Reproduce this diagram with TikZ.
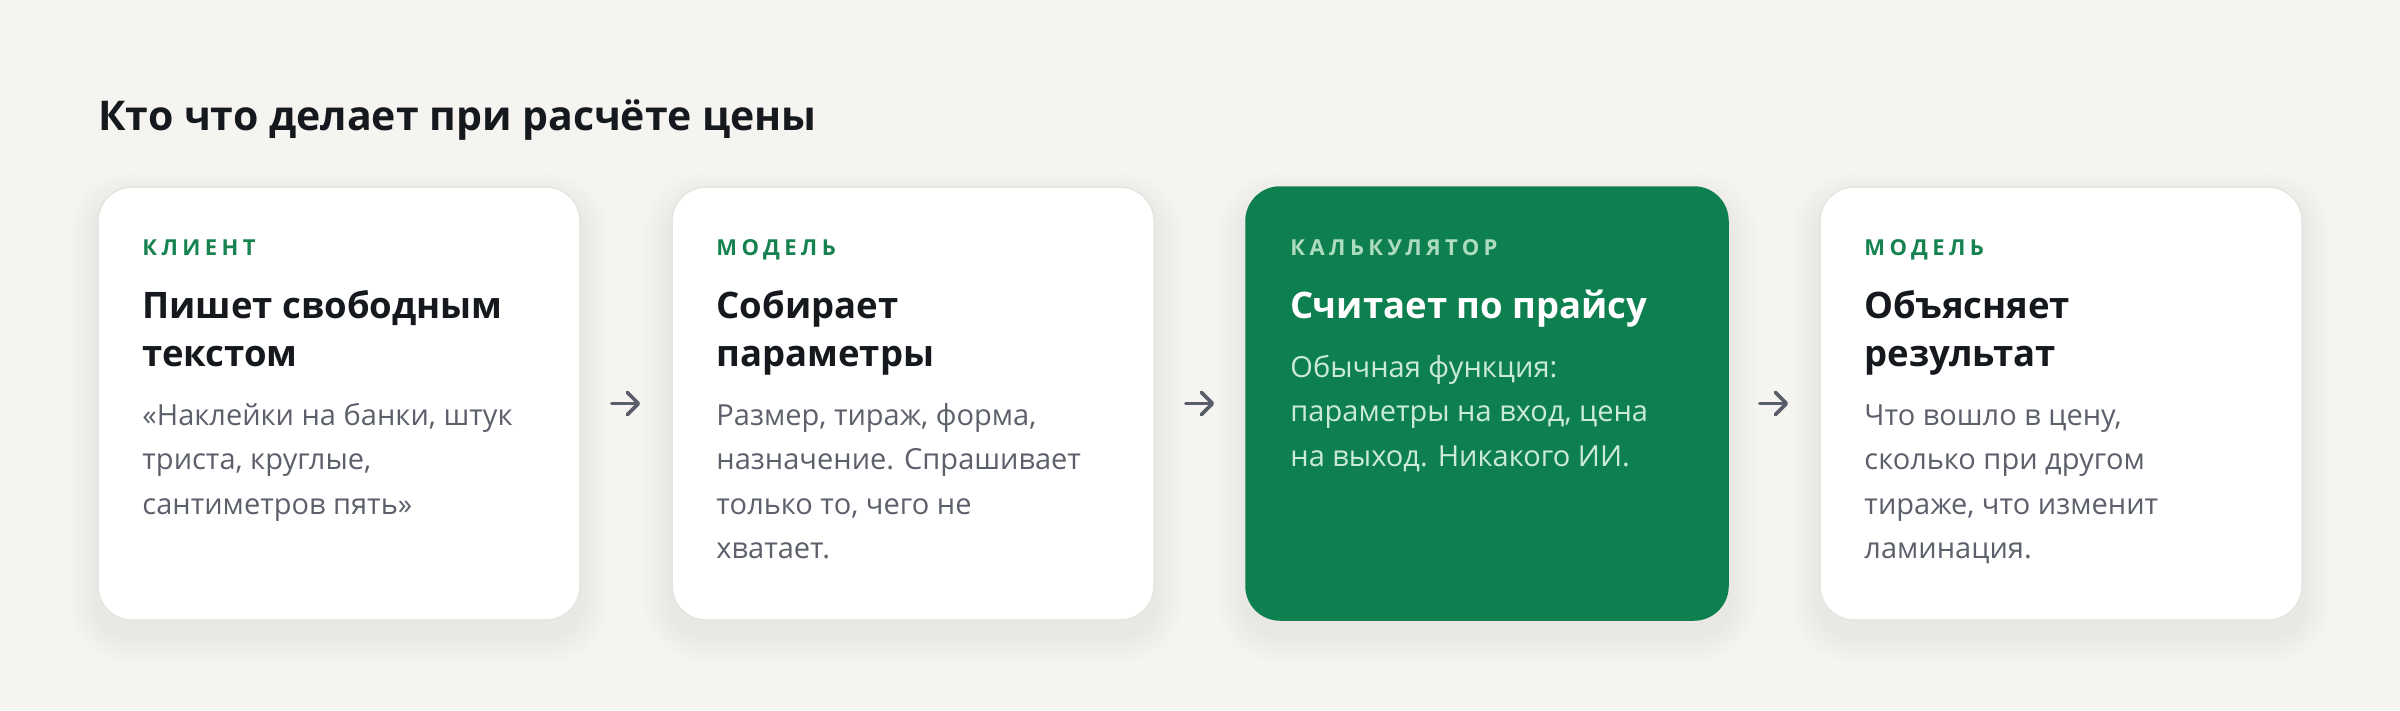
\documentclass[tikz,border=0pt]{standalone}
\usepackage{fontspec}
\setmainfont{Open Sans}
\newfontfamily\tagfont{Open Sans}[LetterSpace=20]
\usepackage{xcolor}
\usepackage{tikz}
\usetikzlibrary{arrows.meta,backgrounds,calc}
\definecolor{pagebg}{HTML}{F5F4F1}
\definecolor{cardline}{HTML}{E6E4DF}
\definecolor{calcgreen}{HTML}{0E8050}
\definecolor{taggreen}{HTML}{16824F}
\definecolor{ink}{HTML}{15181C}
\definecolor{bodygray}{HTML}{5C606B}
\definecolor{calctag}{HTML}{AEDCC1}
\definecolor{calcbody}{HTML}{CBEBD7}
\definecolor{arrowgray}{HTML}{5A5E6A}
\tikzset{
every picture/.style={x=1pt, y=-1pt},
%%%%%%%%%%  Card styles
card/.style={rectangle, rounded corners=34pt, minimum width=482pt,
             minimum height=433pt, inner sep=0pt, fill=white,
             draw=cardline, line width=1.5pt},
hotcard/.style={card, fill=calcgreen, draw=calcgreen},
%%%%%%%%%%  Text styles (multi-line nodes sit on their last baseline)
tag/.style={anchor=base west, inner sep=0pt, text=taggreen,
            font=\tagfont\bfseries\fontsize{22}{26}\selectfont},
head/.style={anchor=base west, inner sep=0pt, align=left, text=ink,
             font=\bfseries\fontsize{36.5}{48}\selectfont},
body/.style={anchor=base west, inner sep=0pt, align=left, text=bodygray,
             font=\fontsize{29}{44.5}\selectfont},
title/.style={anchor=base west, inner sep=0pt, text=ink,
              font=\bfseries\fontsize{41}{48}\selectfont},
%%%%%%%%%%  Arrow between cards
flow/.style={draw=arrowgray, line width=3.6pt, line cap=round,
             -{Straight Barb[length=11pt,width=22pt,line cap=round,line join=round]},
             shorten <=31pt, shorten >=31pt}
}
\begin{document}
\begin{tikzpicture}
\useasboundingbox (0,0) rectangle (2400,710);
%%title
\node[title] (titel) at (98,130) {Кто что делает при расчёте цены};
%%cards
\node[card] (klient) at (339,403.5) {};
\node[card] (sbor) at (913,403.5) {};
\node[hotcard] (calc) at (1487,403.5) {};
\node[card] (itog) at (2061,403.5) {};
%%card 1
\node[tag] (klient-tag) at ($(klient.north west)+(45,69)$) {КЛИЕНТ};
\node[head] (klient-head) at ($(klient.north west)+(45,180)$) {Пишет свободным\\текстом};
\node[body] (klient-body) at ($(klient.north west)+(45,328)$)
	{«Наклейки на банки, штук\\триста, круглые,\\сантиметров пять»};
%%card 2
\node[tag] (sbor-tag) at ($(sbor.north west)+(45,69)$) {МОДЕЛЬ};
\node[head] (sbor-head) at ($(sbor.north west)+(45,180)$) {Собирает\\параметры};
\node[body] (sbor-body) at ($(sbor.north west)+(45,372.5)$)
	{Размер, тираж, форма,\\назначение. Спрашивает\\только то, чего не\\хватает.};
%%card 3, the green one
\node[tag, text=calctag] (calc-tag) at ($(calc.north west)+(45,69)$) {КАЛЬКУЛЯТОР};
\node[head, text=white] (calc-head) at ($(calc.north west)+(45,132)$) {Считает по прайсу};
\node[body, text=calcbody] (calc-body) at ($(calc.north west)+(45,280)$)
	{Обычная функция:\\параметры на вход, цена\\на выход. Никакого ИИ.};
%%card 4
\node[tag] (itog-tag) at ($(itog.north west)+(45,69)$) {МОДЕЛЬ};
\node[head] (itog-head) at ($(itog.north west)+(45,180)$) {Объясняет\\результат};
\node[body] (itog-body) at ($(itog.north west)+(45,372.5)$)
	{Что вошло в цену,\\сколько при другом\\тираже, что изменит\\ламинация.};
%%arrows
\draw[flow] (klient.east) -- (sbor.west);
\draw[flow] (sbor.east) -- (calc.west);
\draw[flow] (calc.east) -- (itog.west);
%%page and soft shadows behind
\begin{pgfonlayer}{background}
\fill[pagebg] (0,0) rectangle (2400,710);
\foreach \c in {klient,sbor,calc,itog}{
	\foreach \r in {1,...,12}{
		\pgfmathsetmacro\rr{34+\r*2.4}
		\fill[black, opacity=0.0045, rounded corners=\rr pt]
			($(\c.north west)+(-\r*2.4,-\r*2.4+14)$) rectangle ($(\c.south east)+(\r*2.4,\r*2.4+14)$);
	}
}
\end{pgfonlayer}
\end{tikzpicture}
\end{document}
